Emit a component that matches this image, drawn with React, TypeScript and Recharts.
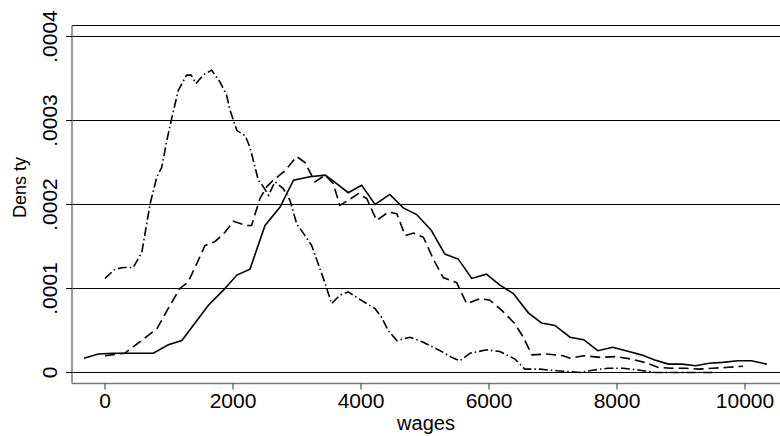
import { LineChart, Line, XAxis, YAxis, CartesianGrid, Label } from "recharts";

// densities are given in units of 1e-4
const DENSITY_UNIT = 0.0001;

const solidWages = [
  -330, -105, 130, 755, 990, 1200, 1615, 1850, 2060, 2265, 2500, 2735, 2945, 3200, 3440, 3565, 3800, 4010,
  4220, 4450, 4660, 4870, 5100, 5310, 5520, 5730, 5960, 6170, 6380, 6615, 6820, 7030, 7265, 7480, 7700,
  7930, 8140, 8380, 8590, 8805, 9015, 9230, 9440, 9650, 9890, 10100, 10340,
];
const solidDensity = [
  0.17, 0.22, 0.23, 0.23, 0.33, 0.38, 0.8, 0.98, 1.16, 1.23, 1.75, 1.97, 2.29, 2.33, 2.35, 2.28, 2.14, 2.23,
  2.0, 2.12, 1.96, 1.88, 1.69, 1.41, 1.35, 1.12, 1.17, 1.04, 0.94, 0.71, 0.59, 0.56, 0.42, 0.39, 0.26,
  0.3, 0.26, 0.21, 0.15, 0.1, 0.1, 0.08, 0.11, 0.12, 0.14, 0.14, 0.1,
];

const dashWages = [
  0, 310, 810, 1015, 1170, 1300, 1430, 1560, 1720, 1875, 2005, 2210, 2290, 2420, 2525, 2630, 2810, 2995,
  3125, 3280, 3440, 3565, 3670, 3800, 3960, 4090, 4245, 4425, 4560, 4690, 4820, 4975, 5130, 5285, 5495,
  5650, 5860, 6015, 6200, 6405, 6535, 6670, 6900, 7160, 7265, 7480, 7745, 7985, 8220, 8435, 8645, 8860,
  9070, 9280, 9490, 9700, 9970,
];
const dashDensity = [
  0.2, 0.23, 0.52, 0.8, 1.0, 1.08, 1.29, 1.51, 1.56, 1.67, 1.8, 1.75, 1.75, 2.07, 2.21, 2.29, 2.4, 2.57,
  2.5, 2.27, 2.35, 2.25, 1.99, 2.05, 2.13, 2.07, 1.81, 1.91, 1.89, 1.63, 1.66, 1.61, 1.35, 1.13, 1.07,
  0.82, 0.88, 0.86, 0.74, 0.58, 0.42, 0.21, 0.22, 0.2, 0.17, 0.2, 0.18, 0.19, 0.16, 0.12, 0.06, 0.05,
  0.05, 0.04, 0.05, 0.06, 0.075,
];

const dashDotWages = [
  0, 155, 285, 440, 575, 705, 810, 885, 965, 1040, 1145, 1275, 1345, 1420, 1535, 1665, 1795, 1900, 1955,
  2060, 2190, 2265, 2395, 2475, 2555, 2655, 2785, 2890, 2995, 3125, 3230, 3360, 3440, 3540, 3670, 3800,
  3960, 4090, 4220, 4320, 4425, 4560, 4765, 4975, 5130, 5285, 5415, 5545, 5705, 5965, 6170, 6405, 6560,
  6795, 7060, 7265, 7425, 7640, 7850, 8090, 8330, 8590, 8860, 9120, 9490,
];
const dashDotDensity = [
  1.12, 1.23, 1.25, 1.25, 1.43, 2.01, 2.33, 2.44, 2.76, 3.02, 3.36, 3.54, 3.54, 3.44, 3.54, 3.6, 3.46, 3.3,
  3.12, 2.88, 2.82, 2.68, 2.29, 2.21, 2.11, 2.27, 2.19, 2.05, 1.77, 1.63, 1.51, 1.23, 1.06, 0.82, 0.92,
  0.96, 0.88, 0.82, 0.76, 0.66, 0.5, 0.38, 0.42, 0.36, 0.3, 0.24, 0.18, 0.14, 0.23, 0.27, 0.25, 0.16, 0.04,
  0.04, 0.02, 0.01, 0.0, 0.03, 0.05, 0.05, 0.03, 0.0, 0.0, 0.0, 0.0,
];

const xTicks = [0, 2000, 4000, 6000, 8000, 10000];
const yTicks = [0, 0.0001, 0.0002, 0.0003, 0.0004];
const yTickLabels = ["0", ".0001", ".0002", ".0003", ".0004"];

const toPoints = (wages: number[], dens: number[]) =>
  wages.map((w, i) => ({ wage: w, density: dens[i] * DENSITY_UNIT }));

const solid = toPoints(solidWages, solidDensity);
const dashed = toPoints(dashWages, dashDensity);
const dashDot = toPoints(dashDotWages, dashDotDensity);

const FONT = "'Liberation Sans', Arial, sans-serif";

const YTick = ({ x, y, payload }: any) => {
  const i = yTicks.indexOf(payload.value);
  return (
    <text
      transform={`translate(${x - 6}, ${y}) rotate(-90)`}
      textAnchor="middle"
      fontSize={21}
      fontFamily={FONT}
      fill="#000"
    >
      {yTickLabels[i]}
    </text>
  );
};

export default function App() {
  return (
    <div style={{ position: "absolute", left: 0, top: 0, background: "#fff" }}>
      <LineChart width={780} height={436} margin={{ top: 25.5, right: 0, bottom: 0, left: 0 }}>
        <CartesianGrid vertical={false} stroke="#000" strokeWidth={1} />
        <XAxis
          type="number"
          dataKey="wage"
          domain={[-516, 10547]}
          ticks={xTicks}
          height={52.5}
          interval={0}
          axisLine={{ stroke: "#777", strokeWidth: 1.5 }}
          tickLine={{ stroke: "#333" }}
          tickSize={6}
          tickMargin={4}
          tick={{ fontSize: 21, fill: "#000", fontFamily: FONT }}
        >
          <Label value="wages" position="insideBottom" offset={6} fontSize={20} fill="#000" fontFamily={FONT} />
        </XAxis>
        <YAxis
          type="number"
          domain={[-0.0000131, 0.0004131]}
          ticks={yTicks}
          width={72}
          interval={0}
          axisLine={{ stroke: "#777", strokeWidth: 1.5 }}
          tickLine={{ stroke: "#000" }}
          tickSize={6}
          tickMargin={3}
          tick={<YTick />}
        >
          <Label
            content={({ viewBox }: any) => (
              <text
                transform={`translate(26, ${viewBox.y + viewBox.height / 2 - 17}) rotate(-90)`}
                textAnchor="middle"
                fontSize={18}
                fontFamily={FONT}
                fill="#000"
              >
                Dens ty
              </text>
            )}
          />
        </YAxis>
        <Line
          data={solid}
          dataKey="density"
          type="linear"
          stroke="#000"
          strokeWidth={1.6}
          dot={false}
          isAnimationActive={false}
        />
        <Line
          data={dashed}
          dataKey="density"
          type="linear"
          stroke="#000"
          strokeWidth={1.6}
          strokeDasharray="10 5"
          dot={false}
          isAnimationActive={false}
        />
        <Line
          data={dashDot}
          dataKey="density"
          type="linear"
          stroke="#000"
          strokeWidth={1.6}
          strokeDasharray="9 3 1.5 3"
          dot={false}
          isAnimationActive={false}
        />
      </LineChart>
    </div>
  );
}
